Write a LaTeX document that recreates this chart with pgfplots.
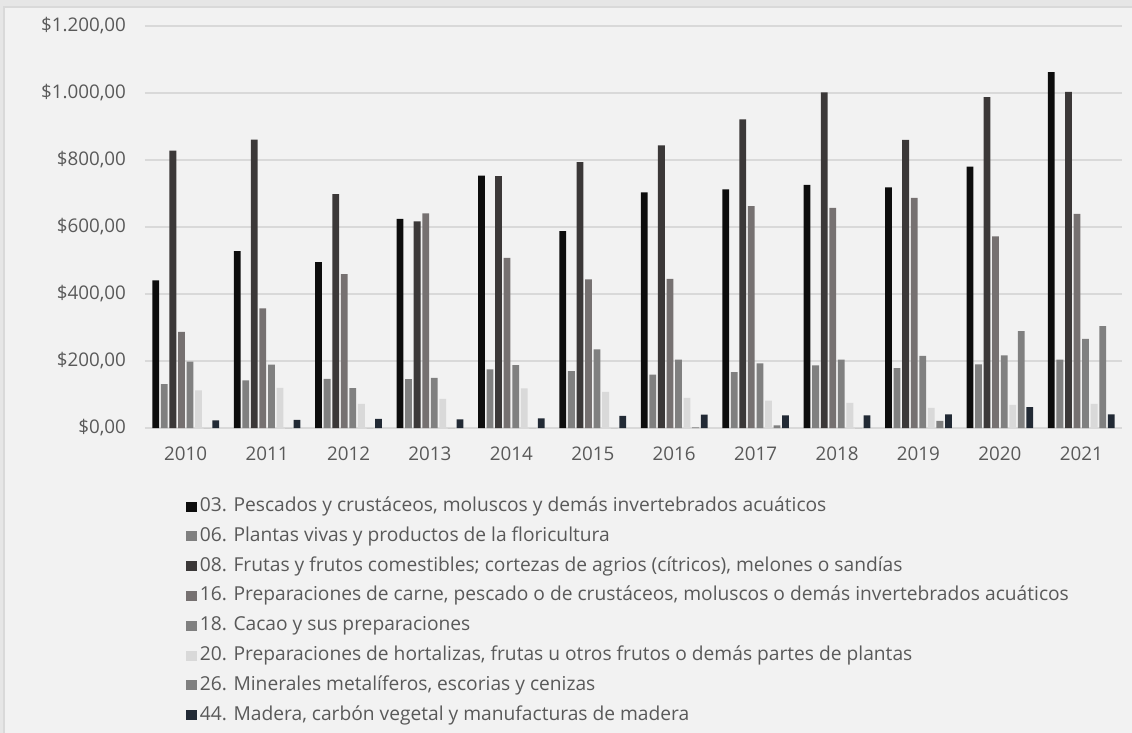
\documentclass[border=0pt]{standalone}
\usepackage{fontspec}
\setmainfont{Open Sans}
\usepackage{pgfplots}
\pgfplotsset{compat=1.18}
\definecolor{bg}{HTML}{F2F2F2}
\definecolor{frame}{HTML}{D9D9D9}
\definecolor{outer}{HTML}{E6E6E6}
\definecolor{gridc}{HTML}{D9D9D9}
\definecolor{txt}{HTML}{595959}
\definecolor{cA}{HTML}{0D0D0D}
\definecolor{cB}{HTML}{808080}
\definecolor{cC}{HTML}{3B3838}
\definecolor{cD}{HTML}{767171}
\definecolor{cE}{HTML}{808080}
\definecolor{cF}{HTML}{D9D9D9}
\definecolor{cG}{HTML}{808080}
\definecolor{cH}{HTML}{222A35}
\begin{document}
\begin{tikzpicture}
\path[use as bounding box] (0,0) rectangle (566pt,-366.5pt);
\fill[outer] (0,0) rectangle (566pt,-366.5pt);
\fill[bg] (2pt,-3.5pt) rectangle (566pt,-366.5pt);
\draw[frame, line width=0.8pt] (2pt,-366.5pt) -- (2pt,-3.5pt) -- (566pt,-3.5pt);
\begin{axis}[
  at={(72.5pt,-214pt)}, anchor=south west,
  scale only axis, width=488.5pt, height=201pt,
  ymin=0, ymax=1200, xmin=-0.5, xmax=11.5,
  ybar=0.88pt, bar width=3.4pt,
  axis line style={draw=none},
  ymajorgrids, grid style={gridc, line width=0.75pt},
  major tick length=0pt,
  ytick={0,200,400,600,800,1000,1200},
  yticklabels={{\$0,00},{\$200,00},{\$400,00},{\$600,00},{\$800,00},{\$1.000,00},{\$1.200,00}},
  xtick={0,...,11},
  xticklabels={2010,2011,2012,2013,2014,2015,2016,2017,2018,2019,2020,2021},
  ticklabel style={font=\fontsize{9.4}{11}\selectfont, text=txt},
  yticklabel style={xshift=-6pt},
  xticklabel style={yshift=-6pt},
  legend style={at={(0.042,-0.172)}, anchor=north west, draw=none, fill=none,
    font=\fontsize{9.6}{11}\selectfont, text=txt, row sep=5.9pt, column sep=1.5pt,
    inner sep=0pt, nodes={inner sep=0pt, text height=7pt, text depth=2pt}},
  legend cell align=left,
  legend image code/.code={\fill[#1,draw=none] (0pt,-2.5pt) rectangle (5.2pt,2.5pt);},
  every axis plot/.append style={draw=none},
]
\addplot[fill=cA] coordinates {(0,441)(1,528)(2,495)(3,624)(4,753)(5,588)(6,703)(7,712)(8,726)(9,718)(10,780)(11,1062)};
\addlegendentry{03. Pescados y crustáceos, moluscos y demás invertebrados acuáticos}
\addplot[fill=cB] coordinates {(0,131)(1,142)(2,147)(3,146)(4,175)(5,170)(6,159)(7,167)(8,187)(9,179)(10,190)(11,204)};
\addlegendentry{06. Plantas vivas y productos de la floricultura}
\addplot[fill=cC] coordinates {(0,828)(1,861)(2,698)(3,617)(4,752)(5,794)(6,844)(7,921)(8,1002)(9,860)(10,988)(11,1003)};
\addlegendentry{08. Frutas y frutos comestibles; cortezas de agrios (cítricos), melones o sandías}
\addplot[fill=cD] coordinates {(0,287)(1,357)(2,459)(3,641)(4,508)(5,444)(6,445)(7,662)(8,657)(9,687)(10,572)(11,639)};
\addlegendentry{16. Preparaciones de carne, pescado o de crustáceos, moluscos o demás invertebrados acuáticos}
\addplot[fill=cE] coordinates {(0,198)(1,189)(2,119)(3,150)(4,188)(5,235)(6,204)(7,193)(8,204)(9,215)(10,217)(11,266)};
\addlegendentry{18. Cacao y sus preparaciones}
\addplot[fill=cF] coordinates {(0,112)(1,120)(2,72)(3,87)(4,118)(5,108)(6,90)(7,82)(8,75)(9,60)(10,69)(11,72)};
\addlegendentry{20. Preparaciones de hortalizas, frutas u otros frutos o demás partes de plantas}
\addplot[fill=cG] coordinates {(0,0)(1,0)(2,0)(3,0)(4,0)(5,0)(6,2)(7,8)(8,0)(9,21)(10,289)(11,304)};
\addlegendentry{26. Minerales metalíferos, escorias y cenizas}
\addplot[fill=cH] coordinates {(0,23)(1,24)(2,27)(3,26)(4,29)(5,36)(6,40)(7,38)(8,38)(9,41)(10,62)(11,41)};
\addlegendentry{44. Madera, carbón vegetal y manufacturas de madera}
\end{axis}
\end{tikzpicture}
\end{document}
